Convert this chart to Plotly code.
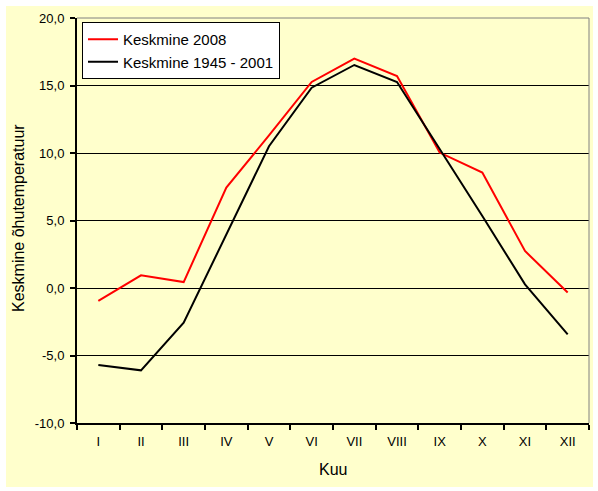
import plotly.graph_objects as go

months = ["I", "II", "III", "IV", "V", "VI", "VII", "VIII", "IX", "X", "XI", "XII"]
mean_2008 = [-0.96, 0.94, 0.44, 7.44, 11.3, 15.26, 17.0, 15.7, 10.03, 8.55, 2.74, -0.34]
mean_1945_2001 = [-5.7, -6.1, -2.57, 4.0, 10.5, 14.84, 16.52, 15.26, 10.3, 5.33, 0.27, -3.43]
y_tick_vals = [-10, -5, 0, 5, 10, 15, 20]
y_tick_text = ["-10,0", "-5,0", "0,0", "5,0", "10,0", "15,0", "20,0"]

font = "Liberation Sans, Arial, sans-serif"

fig = go.Figure()
fig.add_trace(go.Scatter(x=months, y=mean_2008, mode="lines", name="Keskmine 2008",
                         line=dict(color="#FF0000", width=2)))
fig.add_trace(go.Scatter(x=months, y=mean_1945_2001, mode="lines", name="Keskmine 1945 - 2001",
                         line=dict(color="#000000", width=2)))

W, H = 598, 491
L, R, T, B = 77, 9, 18, 68
pw, ph = W - L - R, H - T - B

def px(x):
    return (x - L) / pw

def py(y):
    return (H - B - y) / ph

fig.update_layout(
    width=W, height=H,
    margin=dict(l=L, r=R, t=T, b=B, pad=0),
    paper_bgcolor="white",
    plot_bgcolor="#FFFFCC",
    font=dict(family=font, size=13, color="black"),
    showlegend=True,
    legend=dict(x=px(82), y=py(22), xanchor="left", yanchor="top",
                bgcolor="white", bordercolor="black", borderwidth=1,
                font=dict(size=15, family=font), tracegroupgap=0,
                itemwidth=30),
    xaxis=dict(type="category", range=[-0.5, 11.5], tickson="boundaries",
               ticks="outside", ticklen=5, tickwidth=2, tickcolor="black",
               showline=True, linecolor="black", linewidth=2,
               showgrid=False, zeroline=False, tickfont=dict(size=13),
               ticklabelstandoff=5, fixedrange=True),
    yaxis=dict(range=[-10, 20], tickvals=y_tick_vals, ticktext=y_tick_text,
               ticks="outside", ticklen=5, tickwidth=2, tickcolor="black",
               showline=True, linecolor="black", linewidth=2,
               showgrid=True, gridcolor="black", gridwidth=1,
               zeroline=True, zerolinecolor="black", zerolinewidth=1,
               tickfont=dict(size=13), ticklabelstandoff=3, fixedrange=True),
    shapes=[
        dict(type="rect", xref="paper", yref="paper", layer="below",
             x0=px(6), x1=px(593), y0=py(487), y1=py(6),
             fillcolor="#FFFFCC", line=dict(width=0)),
        dict(type="line", xref="paper", yref="paper", x0=0, x1=1, y0=1, y1=1,
             line=dict(color="#808080", width=1)),
        dict(type="line", xref="paper", yref="paper", x0=1, x1=1, y0=0, y1=1,
             line=dict(color="#808080", width=1)),
    ],
    annotations=[
        dict(text="Kuu", xref="paper", yref="paper", x=px(333), y=py(469),
             showarrow=False, font=dict(size=16, family=font),
             xanchor="center", yanchor="middle"),
        dict(text="Keskmine õhutemperatuur", xref="paper", yref="paper",
             x=px(18), y=py(218), textangle=-90, showarrow=False,
             font=dict(size=16, family=font), xanchor="center", yanchor="middle"),
    ],
)

fig.write_html("out.html", config={"displayModeBar": False},
               post_script="document.body.style.margin='0';document.body.style.padding='0';")
